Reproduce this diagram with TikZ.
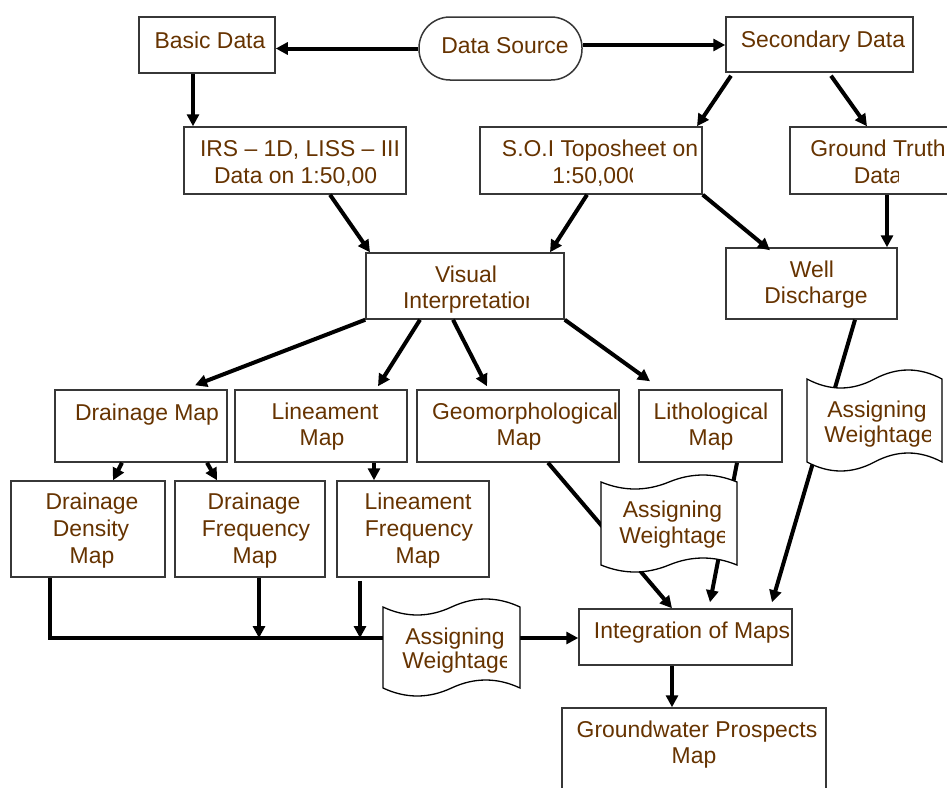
\documentclass[tikz,border=0pt]{standalone}
\usepackage{fontspec}
\setmainfont{Liberation Sans}
\usetikzlibrary{arrows.meta}
\definecolor{txtbrown}{RGB}{102,51,0}
\definecolor{boxgray}{RGB}{55,55,55}
\newcommand{\tapeshape}[5]{%
 \draw[tape] (#1,#3) .. controls ({#1+(#2-#1)/6},{#3+1.333*#5}) and ({#1+(#2-#1)/3},{#3+1.333*#5}) .. ({(#1+#2)/2},#3)
   .. controls ({#1+2*(#2-#1)/3},{#3-1.333*#5}) and ({#1+5*(#2-#1)/6},{#3-1.333*#5}) .. (#2,#3)
   -- (#2,#4) .. controls ({#1+5*(#2-#1)/6},{#4-1.333*#5}) and ({#1+2*(#2-#1)/3},{#4-1.333*#5}) .. ({(#1+#2)/2},#4)
   .. controls ({#1+(#2-#1)/3},{#4+1.333*#5}) and ({#1+(#2-#1)/6},{#4+1.333*#5}) .. (#1,#4) -- cycle;}
\begin{document}
\begin{tikzpicture}[x=1pt,y=-1pt,
  box/.style={draw=boxgray,line width=1.5pt,fill=white,inner sep=0pt},
  lbl/.style={anchor=base,inner sep=0pt,text=txtbrown,font=\fontsize{22.9}{27}\selectfont},
  arr/.style={draw=black,line width=4pt,-{Triangle[length=12pt,width=12pt]}},
  tape/.style={draw=black,line width=1.3pt,fill=white}]
\clip (0,0) rectangle (947,787);
\fill[white] (0,0) rectangle (947,787);

% boxes
\node[box,minimum width=136pt,minimum height=56pt] (basic) at (207,45) {};
\node[box,minimum width=163pt,minimum height=63pt,rounded corners=31pt] (ds) at (500.5,48.5) {};
\node[box,minimum width=187pt,minimum height=55pt] (sec) at (819.5,44.5) {};
\node[box,minimum width=222pt,minimum height=67pt] (irs) at (295,160.5) {};
\node[box,minimum width=222pt,minimum height=67pt] (soi) at (591,160.5) {};
\node[box,minimum width=170pt,minimum height=67pt] (gt) at (875,160.5) {};
\node[box,minimum width=198pt,minimum height=66pt] (vis) at (465,286) {};
\node[box,minimum width=171pt,minimum height=71pt] (well) at (811.5,283.5) {};
\node[box,minimum width=172pt,minimum height=72pt] (dm) at (141,426) {};
\node[box,minimum width=172pt,minimum height=72pt] (lm) at (321,426) {};
\node[box,minimum width=202pt,minimum height=72pt] (geo) at (518,426) {};
\node[box,minimum width=143pt,minimum height=72pt] (lith) at (710.5,426) {};
\node[box,minimum width=154pt,minimum height=96pt] (dd) at (88,529) {};
\node[box,minimum width=150pt,minimum height=96pt] (df) at (250,529) {};
\node[box,minimum width=152pt,minimum height=96pt] (lf) at (413,529) {};
\node[box,minimum width=213pt,minimum height=56pt] (integ) at (685.5,637) {};
\node[box,minimum width=264pt,minimum height=92pt] (gw) at (694,754) {};

% connectors
\draw[arr] (ds.west) -- (ds.west -| basic.east);
\draw[arr] ([yshift=3.5pt]ds.east) -- ([yshift=3.5pt]ds.east -| sec.west);
\draw[arr] ([xshift=-14pt]basic.south) -- ([xshift=-102pt]irs.north);
\draw[arr] ([xshift=-88.5pt,yshift=-3pt]sec.south) -- ([xshift=106pt]soi.north);
\draw[arr] ([xshift=11.5pt,yshift=-3pt]sec.south) -- ([xshift=-8pt]gt.north);
\draw[arr] ([xshift=35pt]irs.south) -- ([xshift=-95pt]vis.north);
\draw[arr] ([xshift=-4pt]soi.south) -- ([xshift=85pt]vis.north);
\draw[arr] (soi.south east) -- ([xshift=-41.5pt,yshift=-3pt]well.north);
\draw[arr] ([xshift=12pt]gt.south) -- ([xshift=75.5pt]well.north);
\draw[arr] (vis.south west) -- ([xshift=54pt,yshift=4pt]dm.north);
\draw[arr] ([xshift=-45pt]vis.south) -- ([xshift=57pt,yshift=3pt]lm.north);
\draw[arr] ([xshift=-12pt]vis.south) -- ([xshift=-31pt,yshift=3pt]geo.north);
\draw[arr] (vis.south east) -- ([xshift=-60.5pt,yshift=8pt]lith.north);
\draw[arr] ([xshift=-19pt]dm.south) -- ([xshift=25pt]dd.north);
\draw[arr] ([xshift=66pt]dm.south) -- ([xshift=-33pt]df.north);
\draw[arr] ([xshift=53pt]lm.south) -- ([xshift=-39pt]lf.north);
\draw[arr,line join=miter] ([xshift=-38pt]dd.south) |- ([yshift=-1pt]integ.west);
\draw[arr] ([xshift=9pt]df.south) -- ([xshift=9pt,yshift=-1pt]df.south |- integ.west);
\draw[arr] ([xshift=-53pt,yshift=-3pt]lf.south) -- ([xshift=-53pt,yshift=-1pt]lf.south |- integ.west);
\draw[arr] ([xshift=30pt]geo.south) -- ([xshift=-13.5pt]integ.north);
\draw[arr] ([xshift=26.5pt]lith.south) -- ([xshift=24.5pt,yshift=6pt]integ.north);
\draw[arr] ([xshift=43.5pt]well.south) -- ([xshift=86.5pt,yshift=6pt]integ.north);
\draw[arr] ([xshift=-13.5pt]integ.south) -- ([xshift=-22pt]gw.north);

% punched-tape shapes
\tapeshape{601}{737}{482}{565}{7}
\tapeshape{807}{942}{379}{462}{9}
\tapeshape{383}{520}{607}{688}{8}

% texts
\node[lbl] (basic-t) at (210,48) {Basic Data};
\node[lbl] (ds-t) at (505,53) {Data Source};
\node[lbl] (sec-t) at (823,47) {Secondary Data};
\node[lbl] (irs-t1) at (300,156) {IRS – 1D, LISS – III};
\begin{scope}\clip (0,0) rectangle (376,787);
\node[lbl] (irs-t2) at (302,183) {Data on 1:50,000};
\end{scope}
\node[lbl] (soi-t1) at (600,156) {S.O.I Toposheet on};
\begin{scope}\clip (0,0) rectangle (632,787);
\node[lbl] (soi-t2) at (597,183) {1:50,000};
\end{scope}
\node[lbl] (gt-t1) at (878,156) {Ground Truth};
\begin{scope}\clip (0,0) rectangle (898,787);
\node[lbl] (gt-t2) at (878,183) {Data};
\end{scope}
\node[lbl] (vis-t1) at (466,282) {Visual};
\begin{scope}\clip (0,0) rectangle (528,787);
\node[lbl] (vis-t2) at (470.5,308) {Interpretation};
\end{scope}
\node[lbl] (well-t1) at (812,277) {Well};
\node[lbl] (well-t2) at (816,303) {Discharge};
\node[lbl] (dm-t) at (147,420) {Drainage Map};
\node[lbl] (lm-t1) at (325,419) {Lineament};
\node[lbl] (lm-t2) at (322,445) {Map};
\node[lbl] (geo-t1) at (525,419) {Geomorphological};
\node[lbl] (geo-t2) at (519,445) {Map};
\node[lbl] (lith-t1) at (711,419) {Lithological};
\node[lbl] (lith-t2) at (711,445) {Map};
\node[lbl] (dd-t1) at (92,509) {Drainage};
\node[lbl] (dd-t2) at (91,536) {Density};
\node[lbl] (dd-t3) at (92,563) {Map};
\node[lbl] (df-t1) at (254,509) {Drainage};
\node[lbl] (df-t2) at (256,536) {Frequency};
\node[lbl] (df-t3) at (255,563) {Map};
\node[lbl] (lf-t1) at (418,509) {Lineament};
\node[lbl] (lf-t2) at (419,536) {Frequency};
\node[lbl] (lf-t3) at (418,563) {Map};
\node[lbl] (w1-t1) at (672.5,517) {Assigning};
\begin{scope}\clip (0,0) rectangle (724,787);
\node[lbl] (w1-t2) at (674,543) {Weightage};
\end{scope}
\node[lbl] (w2-t1) at (877,417) {Assigning};
\begin{scope}\clip (0,0) rectangle (930,787);
\node[lbl] (w2-t2) at (879,442) {Weightage};
\end{scope}
\node[lbl] (w3-t1) at (455,644) {Assigning};
\begin{scope}\clip (0,0) rectangle (506,787);
\node[lbl] (w3-t2) at (457,668) {Weightage};
\end{scope}
\node[lbl] (integ-t) at (692,638) {Integration of Maps};
\node[lbl] (gw-t1) at (697,737) {Groundwater Prospects};
\node[lbl] (gw-t2) at (694,763) {Map};
\end{tikzpicture}
\end{document}
